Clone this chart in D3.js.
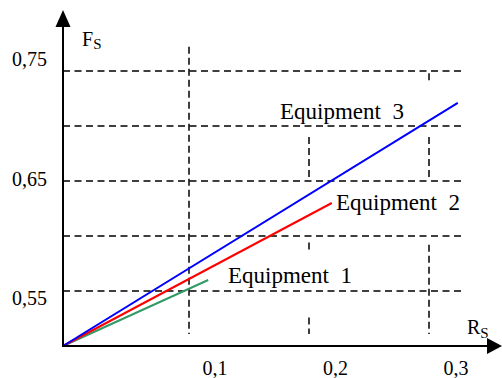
<!DOCTYPE html>
<html>
<head>
<meta charset="utf-8">
<script src="https://cdn.jsdelivr.net/npm/d3@7"></script>
<style>
  body { margin: 0; background: #fff; }
  svg { display: block; }
</style>
</head>
<body>
<div id="chart"></div>
<script>
"use strict";
// series: each line runs from the origin (0, 0.5) to its end point
var seriesNames = ["Equipment  1", "Equipment  2", "Equipment  3"];
var seriesColors = ["#339966", "#ff0000", "#0000ff"];
var seriesEndR = [0.116, 0.219, 0.324];
var seriesEndF = [0.560, 0.630, 0.721];

// tick labels
var xTicks = [0.1, 0.2, 0.3];
var xTickLabels = ["0,1", "0,2", "0,3"];
var yLabelTicks = [0.55, 0.65, 0.75];
var yTickLabels = ["0,55", "0,65", "0,75"];
var yGrid = [0.55, 0.6, 0.65, 0.7, 0.75];

// vertical dashed pieces, [from, to] in F units for each x tick
var vGridPieces = [
  [[0.772, 0.511]],
  [[0.690, 0.653], [0.594, 0.587], [0.526, 0.511]],
  [[0.748, 0.740], [0.690, 0.653], [0.592, 0.511]]
];

var w = 502, h = 378;
var fontFam = "'Liberation Serif', 'Times New Roman', serif";

var svg = d3.select("#chart").append("svg")
  .attr("width", w)
  .attr("height", h);

// the hand drawn axis is not quite even, so a piecewise scale
var x = d3.scaleLinear().domain([0, 0.1, 0.3]).range([63, 189, 429]);
var y = d3.scaleLinear().domain([0.5, 0.75]).range([346, 71]);
// tick labels were set on their own spacing
var xLab = d3.scaleLinear().domain([0.1, 0.3]).range([215, 456]);
var yLab = d3.scaleLinear().domain([0.55, 0.75]).range([305, 66]);

function serifText(sel, size) {
  return sel
    .attr("font-family", fontFam)
    .attr("font-size", size)
    .style("font-family", fontFam)
    .style("font-size", size + "px");
}

//horizontal dashed grid
svg.append("g").selectAll("line")
  .data(yGrid)
  .join("line")
  .attr("x1", x(0))
  .attr("x2", x(0.3275))
  .attr("y1", function(d) { return y(d); })
  .attr("y2", function(d) { return y(d); })
  .attr("stroke", "#000")
  .attr("stroke-width", 1.5)
  .attr("stroke-dasharray", "7,4.5");

//vertical dashed pieces
var pieces = [];
vGridPieces.forEach(function(list, i) {
  list.forEach(function(p) { pieces.push({ r: xTicks[i], a: p[0], b: p[1] }); });
});
svg.append("g").selectAll("line")
  .data(pieces)
  .join("line")
  .attr("x1", function(d) { return x(d.r); })
  .attr("x2", function(d) { return x(d.r); })
  .attr("y1", function(d) { return y(d.a); })
  .attr("y2", function(d) { return y(d.b); })
  .attr("stroke", "#000")
  .attr("stroke-width", 1.5)
  .attr("stroke-dasharray", "7,4");

//series lines
var line = d3.line()
  .x(function(d) { return x(d[0]); })
  .y(function(d) { return y(d[1]); });

svg.append("g").selectAll("path")
  .data(seriesNames)
  .join("path")
  .attr("d", function(d, i) { return line([[0, 0.5], [seriesEndR[i], seriesEndF[i]]]); })
  .attr("fill", "none")
  .attr("stroke", function(d, i) { return seriesColors[i]; })
  .attr("stroke-width", 2);

//axes with arrow heads
var x0 = x(0), y0 = y(0.5);
svg.append("line")
  .attr("x1", x0).attr("y1", y0)
  .attr("x2", x0).attr("y2", 26)
  .attr("stroke", "#000").attr("stroke-width", 2);
svg.append("line")
  .attr("x1", x0 - 1).attr("y1", y0)
  .attr("x2", 488).attr("y2", y0)
  .attr("stroke", "#000").attr("stroke-width", 2);
svg.append("path")
  .attr("d", "M" + x0 + ",10L" + (x0 - 7.5) + ",27L" + (x0 + 7.5) + ",27Z")
  .attr("fill", "#000");
svg.append("path")
  .attr("d", "M502," + y0 + "L487," + (y0 - 8) + "L487," + (y0 + 8) + "Z")
  .attr("fill", "#000");

//tick labels
svg.append("g").selectAll("text")
  .data(xTicks)
  .join("text")
  .attr("x", function(d) { return xLab(d); })
  .attr("y", 375)
  .attr("text-anchor", "middle")
  .call(serifText, 20)
  .text(function(d, i) { return xTickLabels[i]; });

svg.append("g").selectAll("text")
  .data(yLabelTicks)
  .join("text")
  .attr("x", 47)
  .attr("y", function(d) { return yLab(d); })
  .attr("text-anchor", "end")
  .call(serifText, 20)
  .text(function(d, i) { return yTickLabels[i]; });

//axis titles
var fs = svg.append("text").attr("x", 82).attr("y", 46).call(serifText, 20);
fs.append("tspan").text("F");
fs.append("tspan").call(serifText, 15).attr("dy", 3).text("S");

var rs = svg.append("text").attr("x", 467).attr("y", 334).call(serifText, 20);
rs.append("tspan").text("R");
rs.append("tspan").call(serifText, 15).attr("dy", 4).text("S");

//series labels, anchored in chart units
var labelAt = [[0.1325, 0.5573], [0.2225, 0.6236], [0.1758, 0.7064]];
svg.append("g").selectAll("text")
  .data(seriesNames)
  .join("text")
  .attr("x", function(d, i) { return x(labelAt[i][0]); })
  .attr("y", function(d, i) { return y(labelAt[i][1]); })
  .call(serifText, 23)
  .style("white-space", "pre")
  .text(function(d) { return d; });
</script>
</body>
</html>
